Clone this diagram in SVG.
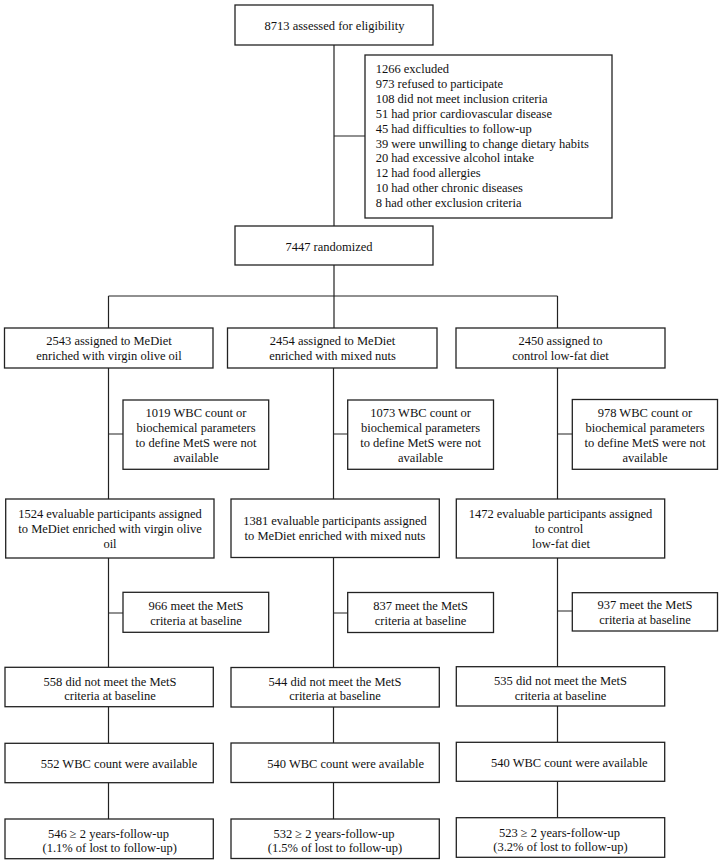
<svg xmlns="http://www.w3.org/2000/svg" width="722" height="862" viewBox="0 0 722 862" font-family="'Liberation Serif', 'Times New Roman', 'DejaVu Serif', serif" font-size="12.5">
<style>
.b{fill:#fff;stroke:#222;stroke-width:1.3}
.c{fill:none;stroke:#222;stroke-width:1.2}
text{font-family:'Liberation Serif','Times New Roman','DejaVu Serif',serif;font-size:12.5px;fill:#111}
.m{text-anchor:middle}
</style>
<rect width="722" height="862" fill="#fff"/>
<g id="connectors">
<path class="c" d="M334 45V226M334 136H365M334 265V328M108.5 296H557.5M108.5 296V328M557.5 296V328"/>
<path class="c" d="M108.5 368V499M108.5 434H123M108.5 558V667M108.5 613H123M108.5 707V743M108.5 783V819"/>
<path class="c" d="M333.5 368V499M333.5 434H347.7M333.5 558V667M333.5 613H347.7M333.5 707V743M333.5 783V819"/>
<path class="c" d="M557.5 368V499M557.5 434H572.3M557.5 558V667M557.5 611H572.3M557.5 706V742M557.5 781V818"/>
</g>
<g id="n-assessed"><rect class="b" x="235" y="5" width="198" height="40"/><text class="m" x="334.5" y="30">8713 assessed for eligibility</text></g>
<g id="n-excluded"><rect class="b" x="365" y="55" width="247" height="163"/>
<text x="375.7" y="73.3">1266 excluded</text>
<text x="375.7" y="88.2">973 refused to participate</text>
<text x="375.7" y="103">108 did not meet inclusion criteria</text>
<text x="375.7" y="117.9">51 had prior cardiovascular disease</text>
<text x="375.7" y="132.7">45 had difficulties to follow-up</text>
<text x="375.7" y="147.6">39 were unwilling to change dietary habits</text>
<text x="375.7" y="162.4">20 had excessive alcohol intake</text>
<text x="375.7" y="177.3">12 had food allergies</text>
<text x="375.7" y="192.1">10 had other chronic diseases</text>
<text x="375.7" y="207">8 had other exclusion criteria</text>
</g>
<g id="n-randomized"><rect class="b" x="235" y="226" width="198" height="39"/><text class="m" x="329" y="251">7447 randomized</text></g>
<g id="n-a1"><rect class="b" x="4.5" y="328" width="208.5" height="40"/><text class="m" x="109" y="344.5">2543 assigned to MeDiet</text><text class="m" x="109" y="359.5">enriched with virgin olive oil</text></g>
<g id="n-a2"><rect class="b" x="227.5" y="328" width="209.5" height="40"/><text class="m" x="332.5" y="344.5">2454 assigned to MeDiet</text><text class="m" x="332.5" y="359.5">enriched with mixed nuts</text></g>
<g id="n-a3"><rect class="b" x="456" y="328" width="209" height="40"/><text class="m" x="560.5" y="344.5">2450 assigned to</text><text class="m" x="560.5" y="359.5">control low-fat diet</text></g>
<g id="n-w1"><rect class="b" x="123" y="400" width="145.7" height="69.3"/><text class="m" x="196" y="417.3">1019 WBC count or</text><text class="m" x="196" y="432.3">biochemical parameters</text><text class="m" x="196" y="447.3">to define MetS were not</text><text class="m" x="196" y="462.3">available</text></g>
<g id="n-w2"><rect class="b" x="347.7" y="400" width="145.8" height="69.3"/><text class="m" x="420.6" y="417.3">1073 WBC count or</text><text class="m" x="420.6" y="432.3">biochemical parameters</text><text class="m" x="420.6" y="447.3">to define MetS were not</text><text class="m" x="420.6" y="462.3">available</text></g>
<g id="n-w3"><rect class="b" x="572.3" y="399.5" width="145.2" height="69.8"/><text class="m" x="645" y="417.3">978 WBC count or</text><text class="m" x="645" y="432.3">biochemical parameters</text><text class="m" x="645" y="447.3">to define MetS were not</text><text class="m" x="645" y="462.3">available</text></g>
<g id="n-e1"><rect class="b" x="5.7" y="499" width="208.3" height="59"/><text class="m" x="110" y="517.5">1524 evaluable participants assigned</text><text class="m" x="110" y="532.5">to MeDiet enriched with virgin olive</text><text class="m" x="110" y="547.5">oil</text></g>
<g id="n-e2"><rect class="b" x="231" y="499" width="208.3" height="58.5"/><text class="m" x="335" y="525.3">1381 evaluable participants assigned</text><text class="m" x="335" y="540.3">to MeDiet enriched with mixed nuts</text></g>
<g id="n-e3"><rect class="b" x="456.3" y="499" width="208.4" height="59"/><text class="m" x="560.5" y="517.5">1472 evaluable participants assigned</text><text class="m" x="559" y="532.5">to control</text><text class="m" x="561" y="547.5">low-fat diet</text></g>
<g id="n-m1"><rect class="b" x="123" y="592.3" width="145.7" height="40"/><text class="m" x="196" y="609.5">966 meet the MetS</text><text class="m" x="196" y="624.5">criteria at baseline</text></g>
<g id="n-m2"><rect class="b" x="347.7" y="592.5" width="145.8" height="40"/><text class="m" x="420.6" y="609.5">837 meet the MetS</text><text class="m" x="420.6" y="624.5">criteria at baseline</text></g>
<g id="n-m3"><rect class="b" x="572.3" y="592.7" width="145.2" height="38.3"/><text class="m" x="645" y="608.5">937 meet the MetS</text><text class="m" x="645" y="623.5">criteria at baseline</text></g>
<g id="n-d1"><rect class="b" x="5" y="667.3" width="208.3" height="39.4"/><text class="m" x="110" y="685.5">558 did not meet the MetS</text><text class="m" x="110" y="700">criteria at baseline</text></g>
<g id="n-d2"><rect class="b" x="231" y="667.5" width="208.3" height="39.5"/><text class="m" x="335" y="685.5">544 did not meet the MetS</text><text class="m" x="335" y="700">criteria at baseline</text></g>
<g id="n-d3"><rect class="b" x="456.3" y="666.7" width="208.4" height="39.3"/><text class="m" x="560.5" y="685">535 did not meet the MetS</text><text class="m" x="560.5" y="699.5">criteria at baseline</text></g>
<g id="n-v1"><rect class="b" x="5" y="743.3" width="208.3" height="39.4"/><text x="40.7" y="768">552 WBC count were available</text></g>
<g id="n-v2"><rect class="b" x="231" y="743" width="208.3" height="39.5"/><text x="267.3" y="768">540 WBC count were available</text></g>
<g id="n-v3"><rect class="b" x="456.3" y="742.3" width="208.4" height="39"/><text x="491" y="767">540 WBC count were available</text></g>
<g id="n-f1"><rect class="b" x="5" y="819" width="208.3" height="39.7"/><text class="m" x="108.5" y="837.5">546 ≥ 2 years-follow-up</text><text class="m" x="109.7" y="851.5">(1.1% of lost to follow-up)</text></g>
<g id="n-f2"><rect class="b" x="231" y="819" width="208.3" height="39.5"/><text class="m" x="334" y="837.5">532 ≥ 2 years-follow-up</text><text class="m" x="335" y="851.5">(1.5% of lost to follow-up)</text></g>
<g id="n-f3"><rect class="b" x="456.3" y="817.7" width="208.4" height="39.6"/><text class="m" x="559.5" y="836.5">523 ≥ 2 years-follow-up</text><text class="m" x="560.5" y="850.5">(3.2% of lost to follow-up)</text></g>
</svg>
